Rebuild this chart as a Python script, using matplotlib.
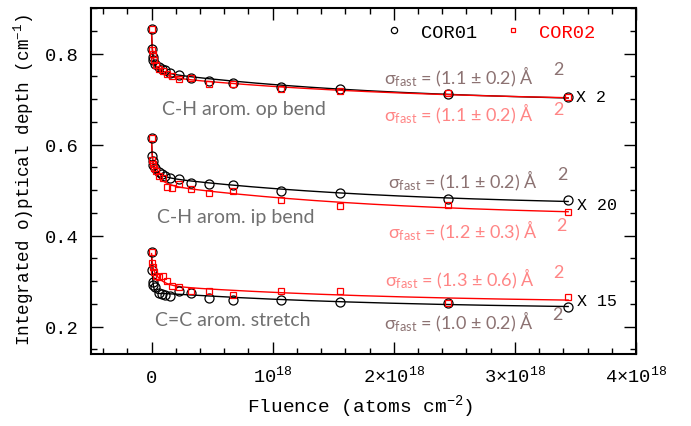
import numpy as np
import matplotlib
matplotlib.use("Agg")
import matplotlib.pyplot as plt
from matplotlib.ticker import MultipleLocator, FixedLocator
from matplotlib.lines import Line2D

# ---------------- data (fluence in atoms cm^-2) ----------------
fluence_cor01 = np.array([0, 0.004, 0.008, 0.015, 0.028, 0.06, 0.085, 0.11, 0.15,
                          0.23, 0.325, 0.475, 0.67, 1.065, 1.56, 2.45, 3.44]) * 1e18
fluence_cor02 = np.array([0, 0.005, 0.012, 0.022, 0.038, 0.06, 0.096, 0.13, 0.165,
                          0.23, 0.325, 0.475, 0.67, 1.065, 1.56, 2.45, 3.44]) * 1e18

# C-H arom. op bend (x2)
op_cor01 = [0.853, 0.811, 0.793, 0.785, 0.778, 0.771, 0.766, 0.763, 0.758,
            0.752, 0.746, 0.740, 0.735, 0.727, 0.722, 0.712, 0.705]
op_cor02 = [0.853, 0.807, 0.798, 0.785, 0.774, 0.767, 0.761, 0.754, 0.751,
            0.745, 0.746, 0.732, 0.732, 0.721, 0.718, 0.713, 0.705]
# C-H arom. ip bend (x20)
ip_cor01 = [0.615, 0.575, 0.563, 0.556, 0.549, 0.540, 0.536, 0.532, 0.527,
            0.524, 0.516, 0.513, 0.512, 0.498, 0.494, 0.481, 0.479]
ip_cor02 = [0.615, 0.566, 0.558, 0.549, 0.542, 0.532, 0.527, 0.507, 0.505,
            0.513, 0.502, 0.494, 0.498, 0.479, 0.466, 0.468, 0.452]
# C=C arom. stretch (x15)
cc_cor01 = [0.363, 0.325, 0.299, 0.292, 0.288, 0.274, 0.272, 0.270, 0.267,
            0.279, 0.274, 0.264, 0.259, 0.259, 0.255, 0.251, 0.244]
cc_cor02 = [0.363, 0.340, 0.331, 0.320, 0.312, 0.309, 0.312, 0.301, 0.290,
            0.288, 0.278, 0.279, 0.270, 0.279, 0.278, 0.252, 0.265]

# fast cross sections (cm^2) quoted on the plot
sigma_fast = {"op01": 1.1e-16, "op02": 1.1e-16, "ip01": 1.1e-16,
              "ip02": 1.2e-16, "cc01": 1.0e-16, "cc02": 1.3e-16}
sigma_text = {"op01": "(1.1 ± 0.2) Å", "op02": "(1.1 ± 0.2) Å",
              "ip01": "(1.1 ± 0.2) Å", "ip02": "(1.2 ± 0.3) Å",
              "cc01": "(1.0 ± 0.2) Å", "cc02": "(1.3 ± 0.6) Å"}
band_labels = ["C-H arom. op bend", "C-H arom. ip bend", "C=C arom. stretch"]
scale_labels = ["X 2", "X 20", "X 15"]
xtick_vals = [0, 1e18, 2e18, 3e18, 4e18]
xtick_labels = ["0", "10$^{18}$", "2×10$^{18}$", "3×10$^{18}$", "4×10$^{18}$"]

# ---------------- style ----------------
W, H = 691, 427
plt.rcParams["font.family"] = ["Liberation Mono", "DejaVu Sans Mono"]
plt.rcParams["mathtext.default"] = "regular"

fig = plt.figure(figsize=(W / 100, H / 100), dpi=100)
ax = fig.add_axes([91 / W, 1 - 355 / H, (636 - 91) / W, (355 - 9) / H])

BROWN = "#8c7272"
PINK = "#ff8585"
GREY = "#707070"


def fit_curve(F, y, sf):
    F = np.asarray(F, float)
    y = np.asarray(y, float)
    sm, ss = 1.5e-17, 5e-19
    A = np.column_stack([np.ones_like(F), np.exp(-sf * F), np.exp(-sm * F), np.exp(-ss * F)])
    coef, *_ = np.linalg.lstsq(A, y, rcond=None)
    Fg = np.unique(np.concatenate([np.linspace(0, 0.1e18, 400), np.linspace(0.1e18, F.max(), 400)]))
    Ag = np.column_stack([np.ones_like(Fg), np.exp(-sf * Fg), np.exp(-sm * Fg), np.exp(-ss * Fg)])
    return Fg, Ag @ coef


sets = [("op", op_cor01, op_cor02), ("ip", ip_cor01, ip_cor02), ("cc", cc_cor01, cc_cor02)]
for key, y1, y2 in sets:
    fx, fy = fit_curve(fluence_cor01, y1, sigma_fast[key + "01"])
    ax.plot(fx, fy, color="black", lw=1.0, zorder=2)
    fx, fy = fit_curve(fluence_cor02, y2, sigma_fast[key + "02"])
    ax.plot(fx, fy, color="red", lw=1.0, zorder=3)
    ax.plot(fluence_cor01, y1, "o", ms=6.5, mfc="none", mec="black", mew=0.9, zorder=4)
    ax.plot(fluence_cor02, y2, "s", ms=5.0, mfc="none", mec="red", mew=0.9, zorder=5)

ax.set_xlim(-0.5e18, 4e18)
ax.set_ylim(0.14, 0.9)
ax.xaxis.set_major_locator(FixedLocator(xtick_vals))
ax.set_xticklabels(xtick_labels)
ax.xaxis.set_minor_locator(MultipleLocator(0.2e18))
ax.yaxis.set_major_locator(MultipleLocator(0.2))
ax.yaxis.set_minor_locator(MultipleLocator(0.05))
ax.tick_params(which="both", direction="in", top=True, right=True, width=1.0)
ax.tick_params(which="major", length=8.5, labelsize=13.5)
ax.tick_params(which="minor", length=4)
ax.tick_params(axis="x", which="major", pad=20)
ax.tick_params(axis="y", which="major", pad=9)
for lab in ax.get_xticklabels():
    lab.set_verticalalignment("baseline")
for s in ax.spines.values():
    s.set_linewidth(1.5)

fig.text(360 / W, 1 - 407 / H, "Fluence (atoms cm$^{-2}$)", fontsize=14,
         ha="center", va="center")
fig.text(24 / W, 1 - 180 / H, "Integrated o)ptical depth (cm$^{-1}$)", fontsize=12.7,
         ha="center", va="center", rotation=90)

# legend
handles = [Line2D([], [], marker="o", ls="none", ms=4.5, mfc="none", mec="black", mew=0.9),
           Line2D([], [], marker="s", ls="none", ms=3.5, mfc="none", mec="red", mew=0.9)]
leg = fig.legend(handles, ["COR01", "COR02"], ncol=2, frameon=False, fontsize=13.5,
                 loc="center left", bbox_to_anchor=(370 / W, 1 - 33 / H),
                 handlelength=0.8, handletextpad=1.0, columnspacing=1.5, borderpad=0.4)
leg.get_texts()[1].set_color("red")


def ftxt(x, y, s, **kw):
    fig.text(x / W, 1 - y / H, s, **kw)


sans = ["Lato", "DejaVu Sans"]
ftxt(244, 110, band_labels[0], fontsize=14, color=GREY, family=sans, ha="center", va="center")
ftxt(236, 218, band_labels[1], fontsize=14, color=GREY, family=sans, ha="center", va="center")
ftxt(233, 320, band_labels[2], fontsize=14, color=GREY, family=sans, ha="center", va="center")

sig_pos = [("op01", 384, 84, 553, 75, BROWN), ("op02", 384, 121, 553, 115, PINK),
           ("ip01", 388, 188, 557, 180, BROWN), ("ip02", 388, 238, 556, 231, PINK),
           ("cc02", 385, 286, 553, 278, PINK), ("cc01", 384, 329, 552, 320, BROWN)]
for key, x, y, x2, y2, c in sig_pos:
    ftxt(x, y, r"$\sigma_{fast}$ = " + sigma_text[key], fontsize=13, color=c,
         family=sans, va="baseline")
    ftxt(x2, y2, "2", fontsize=13, color=c, family=sans, va="baseline")

ftxt(576, 97, scale_labels[0], fontsize=12, ha="left", va="center")
ftxt(577, 206, scale_labels[1], fontsize=12, ha="left", va="center")
ftxt(577, 302, scale_labels[2], fontsize=12, ha="left", va="center")

fig.savefig("out.png", dpi=100)
